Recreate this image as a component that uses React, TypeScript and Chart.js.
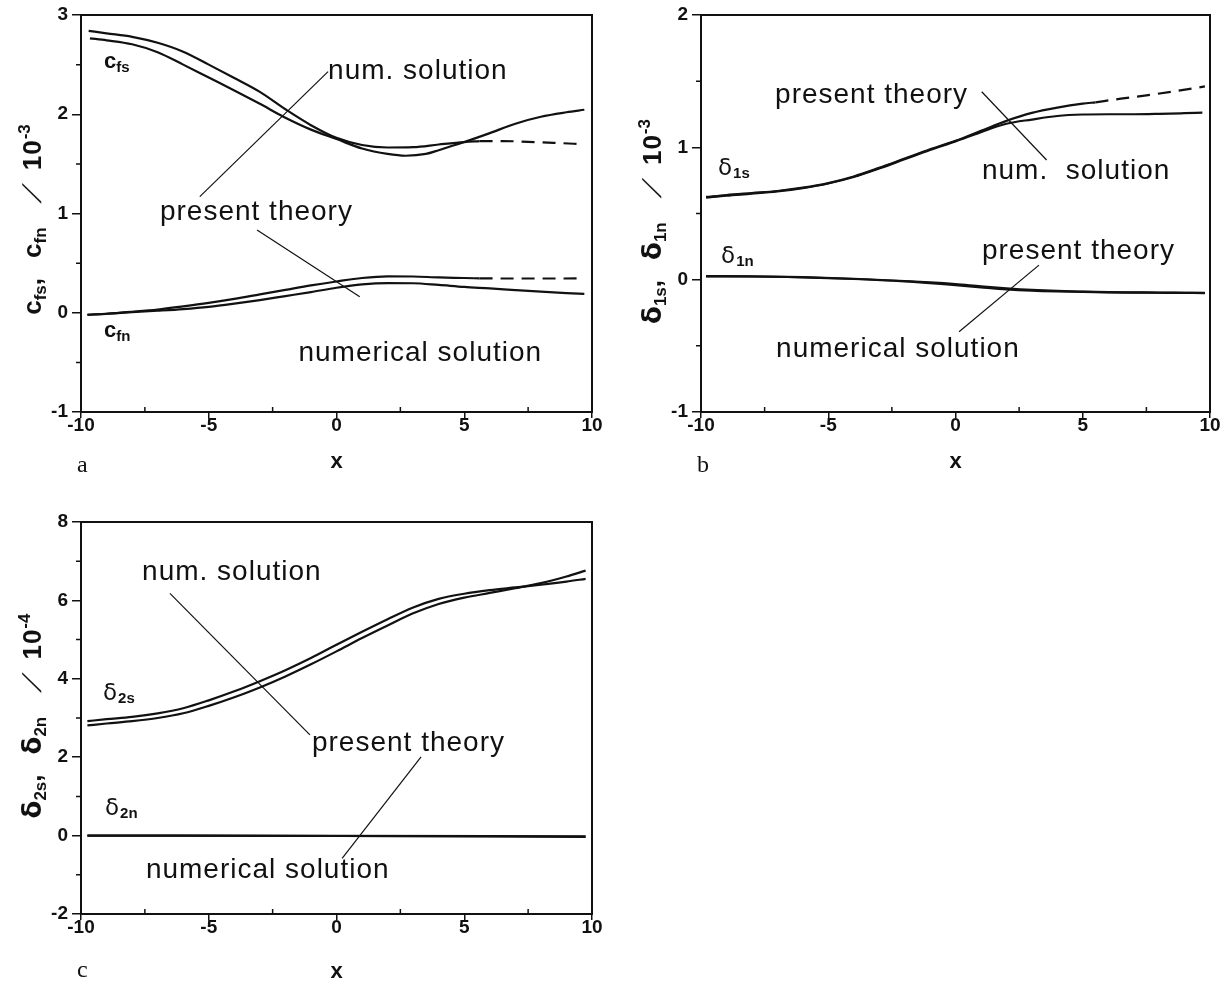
import React, { useEffect, useRef } from "react";
import { Chart, registerables } from "chart.js";

Chart.register(...registerables);

// ---------- shared axis ticks ----------
const xTickValues = [-10, -5, 0, 5, 10];
const xMinorValues = [-7.5, -2.5, 2.5, 7.5];

// ---------- (a) skin friction c_fs, c_fn  [10^-3] ----------
const aYTicks = [-1, 0, 1, 2, 3];
const aYMinor = [-0.5, 0.5, 1.5, 2.5];

const cfsTheoryX = [-9.7, -9, -8, -7, -6, -5, -4, -3, -2, -1, 0, 1, 2, 3, 4, 5, 5.6];
const cfsTheoryY = [2.84, 2.815, 2.78, 2.72, 2.63, 2.5, 2.365, 2.225, 2.05, 1.89, 1.762, 1.69, 1.665, 1.668, 1.695, 1.72, 1.73];
const cfsTheoryExtX = [5.6, 6.5, 7.5, 8.5, 9.7];
const cfsTheoryExtY = [1.73, 1.73, 1.722, 1.712, 1.698];
const cfsNumX = [-9.65, -9, -8, -7, -6, -5, -4, -3, -2, -1, 0, 1, 2, 2.7, 3.5, 4, 5, 6, 7, 8, 9, 9.7];
const cfsNumY = [2.765, 2.745, 2.705, 2.625, 2.5, 2.37, 2.24, 2.105, 1.965, 1.845, 1.75, 1.655, 1.6, 1.582, 1.6, 1.638, 1.72, 1.81, 1.905, 1.975, 2.02, 2.045];

const cfnTheoryX = [-9.75, -9, -8, -7, -6, -5, -4, -3, -2, -1, 0, 1, 2, 3, 4, 5, 5.6];
const cfnTheoryY = [-0.02, -0.01, 0.01, 0.033, 0.065, 0.1, 0.14, 0.185, 0.23, 0.275, 0.315, 0.35, 0.367, 0.365, 0.356, 0.35, 0.346];
const cfnTheoryExtX = [5.6, 7, 8.5, 9.7];
const cfnTheoryExtY = [0.346, 0.345, 0.345, 0.346];
const cfnNumX = [-9.75, -9, -8, -7, -6, -5, -4, -3, -2, -1, 0, 1, 2, 3, 4, 5, 6, 7, 8, 9, 9.7];
const cfnNumY = [-0.02, -0.012, 0.005, 0.02, 0.037, 0.06, 0.092, 0.128, 0.168, 0.208, 0.252, 0.285, 0.298, 0.297, 0.28, 0.26, 0.245, 0.228, 0.212, 0.198, 0.19];

const aLeadUpX = [-0.33, -5.35];
const aLeadUpY = [2.43, 1.17];
const aLeadLowX = [-3.11, 0.91];
const aLeadLowY = [0.834, 0.16];

// ---------- (b) displacement thickness delta_1s, delta_1n  [10^-3] ----------
const bYTicks = [-1, 0, 1, 2];
const bYMinor = [-0.5, 0.5, 1.5];

const d1sTheoryX = [-9.8, -9, -8, -7, -6, -5, -4, -3, -2, -1, 0, 1, 2, 3, 4, 5, 5.5];
const d1sTheoryY = [0.625, 0.64, 0.655, 0.67, 0.695, 0.73, 0.78, 0.845, 0.915, 0.985, 1.05, 1.125, 1.2, 1.26, 1.3, 1.33, 1.34];
const d1sTheoryExtX = [5.5, 6.5, 7.5, 8.5, 9.8];
const d1sTheoryExtY = [1.34, 1.368, 1.393, 1.42, 1.46];
const d1sNumX = [-9.8, -9, -8, -7, -6, -5, -4, -3, -2, -1, 0, 1, 2, 3, 4, 5, 6, 7, 8, 9, 9.7];
const d1sNumY = [0.62, 0.635, 0.65, 0.667, 0.692, 0.727, 0.776, 0.84, 0.91, 0.98, 1.045, 1.115, 1.178, 1.21, 1.237, 1.248, 1.25, 1.25, 1.253, 1.258, 1.262];

const d1nTheoryX = [-9.8, -8, -6, -4, -2, -1, 0, 1, 2, 3, 4, 5, 6, 7, 8, 9, 9.8];
const d1nTheoryY = [0.027, 0.025, 0.019, 0.007, -0.01, -0.02, -0.033, -0.05, -0.065, -0.077, -0.085, -0.09, -0.094, -0.096, -0.098, -0.099, -0.1];
const d1nNumY = [0.025, 0.024, 0.017, 0.005, -0.013, -0.026, -0.042, -0.058, -0.073, -0.083, -0.089, -0.093, -0.096, -0.098, -0.099, -0.1, -0.101];

const bLeadUpX = [1.03, 3.58];
const bLeadUpY = [1.42, 0.904];
const bLeadLowX = [3.28, 0.14];
const bLeadLowY = [0.11, -0.394];

// ---------- (c) momentum thickness delta_2s, delta_2n  [10^-4] ----------
const cYTicks = [-2, 0, 2, 4, 6, 8];
const cYMinor = [-1, 1, 3, 5, 7];

const d2sX = [-9.75, -9, -8, -7, -6, -5, -4, -3, -2, -1, 0, 1, 2, 3, 4, 5, 6, 7, 8, 9, 9.75];
const d2sNumY = [2.92, 2.97, 3.03, 3.12, 3.25, 3.45, 3.68, 3.94, 4.22, 4.53, 4.87, 5.2, 5.52, 5.82, 6.04, 6.17, 6.26, 6.33, 6.4, 6.48, 6.55];
const d2sTheoryY = [2.81, 2.86, 2.92, 3.0, 3.12, 3.31, 3.53, 3.78, 4.06, 4.37, 4.7, 5.04, 5.36, 5.67, 5.91, 6.07, 6.19, 6.31, 6.44, 6.61, 6.76];

const d2nX = [-9.75, 0, 9.75];
const d2nTheoryY = [0.0, -0.01, -0.03];
const d2nNumY = [0.0, -0.005, -0.02];

const cLeadUpX = [-6.52, -1.04];
const cLeadUpY = [6.18, 2.57];
const cLeadLowX = [3.31, 0.22];
const cLeadLowY = [2.01, -0.58];

// ---------- styling ----------
const INK = "#111";
const ANN = '28px "Liberation Sans"';
const SYM = 'bold 22px "Liberation Sans"';
const SYM_SUB = 'bold 15px "Liberation Sans"';
const DEL = '23px "DejaVu Sans"';
const T_MAIN = 'bold 26px "Liberation Sans"';
const T_SUB = 'bold 17px "Liberation Sans"';
const T_DEL = 'bold 26px "DejaVu Sans"';
const T_SLASH = '26px "Liberation Sans"';
const TAG_FONT = '24px "Liberation Serif"';
const TICK_FONT = { family: "Liberation Sans", size: 19, weight: "bold" as const, lineHeight: 1 };

type Part = { t: string; font: string; dy?: number; gap?: number; skew?: number; ls?: number };
type Note = { x: number; y: number; parts: Part[] };

const pts = (xs: number[], ys: number[]) => xs.map((x, i) => ({ x, y: ys[i] }));

const curve = (xs: number[], ys: number[], dashed = false) => ({
  data: pts(xs, ys),
  showLine: true,
  borderColor: INK,
  borderWidth: 2.2,
  borderDash: dashed ? [13, 8] : [],
  borderCapStyle: "butt",
  pointRadius: 0,
  tension: 0.4,
  cubicInterpolationMode: "monotone",
  fill: false,
});

const leader = (xs: number[], ys: number[]) => ({
  data: pts(xs, ys),
  showLine: true,
  borderColor: INK,
  borderWidth: 1.2,
  pointRadius: 0,
  tension: 0,
  fill: false,
});

const text = (t: string, ls = 1): Part => ({ t, font: ANN, ls });

function drawParts(ctx: CanvasRenderingContext2D, parts: Part[], x: number, y: number, draw = true) {
  let cx = x;
  for (const p of parts) {
    cx += p.gap || 0;
    ctx.font = p.font;
    (ctx as any).letterSpacing = (p.ls || 0) + "px";
    if (draw) {
      ctx.save();
      ctx.translate(cx, y + (p.dy || 0));
      if (p.skew) ctx.transform(1, 0, p.skew, 1, 0, 0);
      ctx.fillText(p.t, 0, 0);
      ctx.restore();
    }
    cx += ctx.measureText(p.t).width;
  }
  (ctx as any).letterSpacing = "0px";
  return cx - x;
}

const notesPlugin = {
  id: "notes",
  afterDraw(chart: any, _args: any, opts: any) {
    const { ctx, chartArea: a, scales } = chart;
    const sx = scales.x;
    const sy = scales.y;
    ctx.save();
    ctx.fillStyle = INK;
    ctx.strokeStyle = INK;

    // plot frame
    ctx.lineWidth = 2;
    ctx.strokeRect(a.left, a.top, a.right - a.left, a.bottom - a.top);

    // minor ticks
    ctx.lineWidth = 1.5;
    ctx.beginPath();
    for (const v of opts.xMinor) {
      const p = sx.getPixelForValue(v);
      ctx.moveTo(p, a.bottom);
      ctx.lineTo(p, a.bottom - 5);
    }
    for (const v of opts.yMinor) {
      const p = sy.getPixelForValue(v);
      ctx.moveTo(a.left, p);
      ctx.lineTo(a.left - 5, p);
    }
    ctx.stroke();

    // curve annotations
    ctx.textAlign = "left";
    ctx.textBaseline = "alphabetic";
    for (const n of opts.notes as Note[]) {
      drawParts(ctx, n.parts, sx.getPixelForValue(n.x), sy.getPixelForValue(n.y));
    }

    // panel tag
    ctx.font = TAG_FONT;
    ctx.fillText(opts.tag, a.left + opts.tagDx, a.bottom + opts.tagDy);

    // rotated y-axis title
    const t = opts.title;
    const w = drawParts(ctx, t.parts, 0, 0, false);
    ctx.translate(a.left + t.dx, (a.top + a.bottom) / 2 + t.dy);
    ctx.rotate(-Math.PI / 2);
    drawParts(ctx, t.parts, -w / 2, 0);
    ctx.restore();
  },
};

type Panel = {
  width: number;
  height: number;
  padTop: number;
  padRight: number;
  yAxisW: number;
  xAxisH: number;
  yMin: number;
  yMax: number;
  yTicks: number[];
  yMinor: number[];
  datasets: any[];
  notes: Note[];
  title: { parts: Part[]; dx: number; dy: number };
  tag: string;
  tagDx: number;
  tagDy: number;
};

function makeConfig(p: Panel): any {
  return {
    type: "scatter",
    data: { datasets: p.datasets },
    options: {
      responsive: false,
      animation: false,
      devicePixelRatio: 1,
      layout: { padding: { top: p.padTop, right: p.padRight, left: 0, bottom: 0 } },
      plugins: {
        legend: { display: false },
        tooltip: { enabled: false },
        notes: {
          xMinor: xMinorValues,
          yMinor: p.yMinor,
          notes: p.notes,
          title: p.title,
          tag: p.tag,
          tagDx: p.tagDx,
          tagDy: p.tagDy,
        },
      },
      scales: {
        x: {
          type: "linear",
          min: -10,
          max: 10,
          afterBuildTicks: (s: any) => {
            s.ticks = xTickValues.map((v) => ({ value: v }));
          },
          afterFit: (s: any) => {
            s.height = p.xAxisH;
          },
          grid: { drawOnChartArea: false, drawTicks: true, tickLength: 6, color: INK, lineWidth: 1.5 },
          border: { display: false },
          ticks: { font: TICK_FONT, color: INK, padding: -2, maxRotation: 0, autoSkip: false },
          title: {
            display: true,
            text: "x",
            color: INK,
            font: { family: "Liberation Sans", size: 22, weight: "bold" },
            padding: { top: 0, bottom: 15 },
          },
        },
        y: {
          type: "linear",
          min: p.yMin,
          max: p.yMax,
          afterBuildTicks: (s: any) => {
            s.ticks = p.yTicks.map((v) => ({ value: v }));
          },
          afterFit: (s: any) => {
            s.width = p.yAxisW;
          },
          grid: { drawOnChartArea: false, drawTicks: true, tickLength: 9, color: INK, lineWidth: 1.5 },
          border: { display: false },
          ticks: { font: TICK_FONT, color: INK, padding: 4, autoSkip: false },
        },
      },
    },
    plugins: [notesPlugin],
  };
}

const panelA: Panel = {
  width: 615,
  height: 490,
  padTop: 15,
  padRight: 23,
  yAxisW: 81,
  xAxisH: 78,
  yMin: -1,
  yMax: 3,
  yTicks: aYTicks,
  yMinor: aYMinor,
  datasets: [
    curve(cfsTheoryX, cfsTheoryY),
    curve(cfsTheoryExtX, cfsTheoryExtY, true),
    curve(cfsNumX, cfsNumY),
    curve(cfnTheoryX, cfnTheoryY),
    curve(cfnTheoryExtX, cfnTheoryExtY, true),
    curve(cfnNumX, cfnNumY),
    leader(aLeadUpX, aLeadUpY),
    leader(aLeadLowX, aLeadLowY),
  ],
  notes: [
    { x: -0.33, y: 2.355, parts: [text("num. solution")] },
    { x: -6.91, y: 0.935, parts: [text("present theory")] },
    { x: -1.49, y: -0.49, parts: [text("numerical solution")] },
    { x: -9.1, y: 2.466, parts: [{ t: "c", font: SYM }, { t: "fs", font: SYM_SUB, dy: 4 }] },
    { x: -9.1, y: -0.244, parts: [{ t: "c", font: SYM }, { t: "fn", font: SYM_SUB, dy: 4 }] },
  ],
  title: {
    parts: [
      { t: "c", font: T_MAIN },
      { t: "fs", font: T_SUB, dy: 5 },
      { t: ",", font: T_MAIN },
      { t: "c", font: T_MAIN, gap: 20 },
      { t: "fn", font: T_SUB, dy: 5 },
      { t: "/", font: T_SLASH, gap: 24, skew: -0.7 },
      { t: "10", font: T_MAIN, gap: 26, ls: 1 },
      { t: "-3", font: T_SUB, dy: -11 },
    ],
    dx: -40,
    dy: 6,
  },
  tag: "a",
  tagDx: -4,
  tagDy: 60,
};

const panelB: Panel = {
  width: 615,
  height: 490,
  padTop: 15,
  padRight: 21,
  yAxisW: 85,
  xAxisH: 78,
  yMin: -1,
  yMax: 2,
  yTicks: bYTicks,
  yMinor: bYMinor,
  datasets: [
    curve(d1sTheoryX, d1sTheoryY),
    curve(d1sTheoryExtX, d1sTheoryExtY, true),
    curve(d1sNumX, d1sNumY),
    curve(d1nTheoryX, d1nTheoryY),
    curve(d1nTheoryX, d1nNumY),
    leader(bLeadUpX, bLeadUpY),
    leader(bLeadLowX, bLeadLowY),
  ],
  notes: [
    { x: -7.09, y: 1.335, parts: [text("present theory")] },
    { x: 1.04, y: 0.76, parts: [text("num.  solution")] },
    { x: 1.04, y: 0.156, parts: [text("present theory")] },
    { x: -7.05, y: -0.585, parts: [text("numerical solution")] },
    { x: -9.33, y: 0.79, parts: [{ t: "δ", font: DEL }, { t: "1s", font: SYM_SUB, dy: 3, gap: 1 }] },
    { x: -9.21, y: 0.125, parts: [{ t: "δ", font: DEL }, { t: "1n", font: SYM_SUB, dy: 3, gap: 1 }] },
  ],
  title: {
    parts: [
      { t: "δ", font: T_DEL },
      { t: "1s", font: T_SUB, dy: 5 },
      { t: ",", font: T_MAIN },
      { t: "δ", font: T_DEL, gap: 20 },
      { t: "1n", font: T_SUB, dy: 5 },
      { t: "/", font: T_SLASH, gap: 24, skew: -0.7 },
      { t: "10", font: T_MAIN, gap: 26, ls: 1 },
      { t: "-3", font: T_SUB, dy: -11 },
    ],
    dx: -40,
    dy: 8,
  },
  tag: "b",
  tagDx: -4,
  tagDy: 60,
};

const panelC: Panel = {
  width: 615,
  height: 510,
  padTop: 32,
  padRight: 23,
  yAxisW: 81,
  xAxisH: 86,
  yMin: -2,
  yMax: 8,
  yTicks: cYTicks,
  yMinor: cYMinor,
  datasets: [
    curve(d2sX, d2sNumY),
    curve(d2sX, d2sTheoryY),
    curve(d2nX, d2nTheoryY),
    curve(d2nX, d2nNumY),
    leader(cLeadUpX, cLeadUpY),
    leader(cLeadLowX, cLeadLowY),
  ],
  notes: [
    { x: -7.61, y: 6.52, parts: [text("num. solution")] },
    { x: -0.96, y: 2.15, parts: [text("present theory")] },
    { x: -7.46, y: -1.08, parts: [text("numerical solution")] },
    { x: -9.14, y: 3.46, parts: [{ t: "δ", font: DEL }, { t: "2s", font: SYM_SUB, dy: 3, gap: 1 }] },
    { x: -9.06, y: 0.53, parts: [{ t: "δ", font: DEL }, { t: "2n", font: SYM_SUB, dy: 3, gap: 1 }] },
  ],
  title: {
    parts: [
      { t: "δ", font: T_DEL },
      { t: "2s", font: T_SUB, dy: 5 },
      { t: ",", font: T_MAIN },
      { t: "δ", font: T_DEL, gap: 20 },
      { t: "2n", font: T_SUB, dy: 5 },
      { t: "/", font: T_SLASH, gap: 24, skew: -0.7 },
      { t: "10", font: T_MAIN, gap: 26, ls: 1 },
      { t: "-4", font: T_SUB, dy: -11 },
    ],
    dx: -40,
    dy: -2,
  },
  tag: "c",
  tagDx: -4,
  tagDy: 63,
};

function PanelChart({ panel, left, top }: { panel: Panel; left: number; top: number }) {
  const ref = useRef<HTMLCanvasElement | null>(null);
  useEffect(() => {
    if (!ref.current) return;
    const chart = new Chart(ref.current, makeConfig(panel));
    return () => chart.destroy();
  }, [panel]);
  return (
    <canvas
      ref={ref}
      width={panel.width}
      height={panel.height}
      style={{ position: "absolute", left, top, width: panel.width, height: panel.height }}
    />
  );
}

export default function App() {
  return (
    <div
      style={{
        position: "fixed",
        left: 0,
        top: 0,
        width: 1231,
        height: 982,
        background: "#fff",
        overflow: "hidden",
      }}
    >
      <PanelChart panel={panelA} left={0} top={0} />
      <PanelChart panel={panelB} left={616} top={0} />
      <PanelChart panel={panelC} left={0} top={490} />
    </div>
  );
}
